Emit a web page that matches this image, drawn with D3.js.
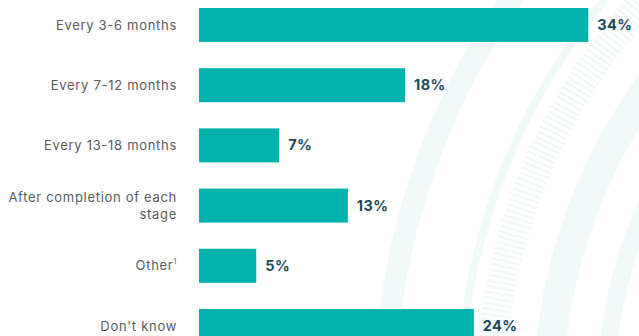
<!DOCTYPE html>
<html>
<head>
<meta charset="utf-8">
<script src="https://cdn.jsdelivr.net/npm/d3@7/dist/d3.min.js"></script>
<style>
  html, body { margin: 0; padding: 0; background: #ffffff; }
  svg { display: block; }
</style>
</head>
<body>
<svg id="chart" width="639" height="336"></svg>
<script>
// Survey answers: how often the plan is reviewed
const categories = [
  "Every 3-6 months",
  "Every 7-12 months",
  "Every 13-18 months",
  "After completion of each stage",
  "Other",
  "Don't know"
];
const values = [34, 18, 7, 13, 5, 24];
const footnotes = ["", "", "", "", "1", ""];
const wrappedLabels = {
  "After completion of each stage": ["After completion of each", "stage"]
};

const width = 639, height = 336;
const barColor = "#00b2ad";
const valueColor = "#1c4a56";
const labelColor = "#5a5a5a";
const ringColor = "#f1f9f8";

const svg = d3.select("#chart");

// Decorative concentric rings in the background
const rings = svg.append("g").attr("class", "rings")
  .attr("transform", "translate(1085,400)");
const ringSpecs = [
  { r: 700, w: 22, dash: null },
  { r: 625, w: 8, dash: null },
  { r: 595, w: 30, dash: "2.5 3" },
  { r: 537, w: 30, dash: null },
  { r: 480, w: 18, dash: null }
];
rings.selectAll("circle").data(ringSpecs).join("circle")
  .attr("r", d => d.r)
  .attr("fill", "none")
  .attr("stroke", ringColor)
  .attr("stroke-width", d => d.w)
  .attr("stroke-dasharray", d => d.dash);

// Scales
const x0 = 199;
const x = d3.scaleLinear().domain([0, 34]).range([x0, x0 + 34 * 11.45]);
const y = d3.scaleBand()
  .domain(categories)
  .range([-5.1, -5.1 + 6 * 60.2])
  .paddingInner(0.435)
  .paddingOuter(0.2175);

const rows = categories.map((c, i) => ({ cat: c, value: values[i], note: footnotes[i] }));

// Bars
svg.append("g").selectAll("rect").data(rows).join("rect")
  .attr("x", x(0))
  .attr("y", d => y(d.cat))
  .attr("width", d => x(d.value) - x(0))
  .attr("height", y.bandwidth())
  .attr("fill", barColor);

// Category labels
const labels = svg.append("g")
  .attr("font-family", "Inter, 'Noto Sans', sans-serif")
  .attr("font-size", 13)
  .attr("letter-spacing", 0.7)
  .attr("fill", labelColor)
  .attr("text-anchor", "end");

rows.forEach(d => {
  const cy = y(d.cat) + y.bandwidth() / 2;
  const lines = wrappedLabels[d.cat] || [d.cat];
  const lh = 17;
  const t = labels.append("text")
    .attr("x", 177)
    .attr("y", cy - (lines.length - 1) * lh / 2);
  lines.forEach((ln, k) => {
    t.append("tspan").attr("x", 177).attr("dy", k === 0 ? "0.35em" : lh).text(ln);
  });
  if (d.note) {
    t.append("tspan")
      .attr("font-size", 7)
      .attr("dy", -6)
      .text(d.note);
  }
});

// Value labels
svg.append("g").selectAll("text").data(rows).join("text")
  .attr("x", d => x(d.value) + 9)
  .attr("y", d => y(d.cat) + y.bandwidth() / 2)
  .attr("dy", "0.35em")
  .attr("font-family", "Inter, 'Noto Sans', sans-serif")
  .attr("font-size", 14.5)
  .attr("font-weight", 700)
  .attr("letter-spacing", 0.4)
  .attr("fill", valueColor)
  .text(d => d.value + "%");
</script>
</body>
</html>
